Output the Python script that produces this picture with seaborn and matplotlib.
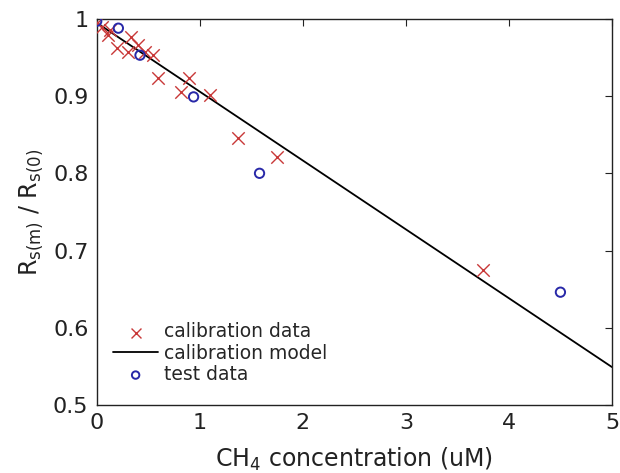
import matplotlib
matplotlib.use("Agg")
import matplotlib.pyplot as plt
import seaborn as sns
import pandas as pd

sns.set_theme(style="white")
plt.rcParams['font.family'] = ['DejaVu Sans']
plt.rcParams['mathtext.default'] = 'regular'

# calibration data
cal_x = [0.0, 0.05, 0.13, 0.11, 0.20, 0.33, 0.30, 0.40, 0.47, 0.55, 0.59, 0.82, 0.90, 1.10, 1.37, 1.75, 3.75]
cal_y = [0.995, 0.990, 0.985, 0.979, 0.962, 0.977, 0.957, 0.966, 0.957, 0.953, 0.923, 0.905, 0.923, 0.901, 0.846, 0.821, 0.675]
# calibration model (end points)
model_x = [0.0, 5.0]
model_y = [0.995, 0.549]
# test data
test_x = [0.0, 0.21, 0.42, 0.94, 1.58, 4.50]
test_y = [0.997, 0.988, 0.953, 0.899, 0.800, 0.646]

xticks = [0, 1, 2, 3, 4, 5]
yticks = [0.5, 0.6, 0.7, 0.8, 0.9, 1.0]
yticklabels = ["0.5", "0.6", "0.7", "0.8", "0.9", "1"]

fig = plt.figure(figsize=(6.2, 4.73), dpi=100)
ax = fig.add_axes([0.156, 0.144, 0.831, 0.816])

cal = pd.DataFrame({"x": cal_x, "y": cal_y})
mod = pd.DataFrame({"x": model_x, "y": model_y})
tst = pd.DataFrame({"x": test_x, "y": test_y})

sns.scatterplot(data=cal, x="x", y="y", ax=ax, marker="x", s=80, color="#c83838",
                linewidth=1.0, label="calibration data", zorder=3)
sns.lineplot(data=mod, x="x", y="y", ax=ax, color="black", linewidth=1.3,
             label="calibration model", zorder=2)
sns.scatterplot(data=tst, x="x", y="y", ax=ax, marker="o", s=45, facecolor="none",
                edgecolor="#2828a8", linewidth=1.4, label="test data", zorder=4)

ax.set_xlim(0, 5)
ax.set_ylim(0.5, 1.0)
ax.set_xticks(xticks)
ax.set_yticks(yticks)
ax.set_yticklabels(yticklabels)
ax.tick_params(direction="in", top=True, right=True, length=5, width=0.8,
               labelsize=16, colors="#222222", pad=6)
for sp in ax.spines.values():
    sp.set_visible(True)
    sp.set_color("#222222")
    sp.set_linewidth(1.0)

ax.set_xlabel("CH$_4$ concentration (uM)", fontsize=17, color="#222222", labelpad=9)
ax.set_ylabel("R$_{s(m)}$ / R$_{s(0)}$", fontsize=17, color="#222222", labelpad=6)

leg = ax.legend(loc="lower left", bbox_to_anchor=(0.01, 0.025), frameon=False, fontsize=13.5,
                handlelength=2.4, handletextpad=0.3, labelspacing=0.12, borderaxespad=0.2,
                markerscale=0.8)

fig.savefig("out.png", dpi=100)
